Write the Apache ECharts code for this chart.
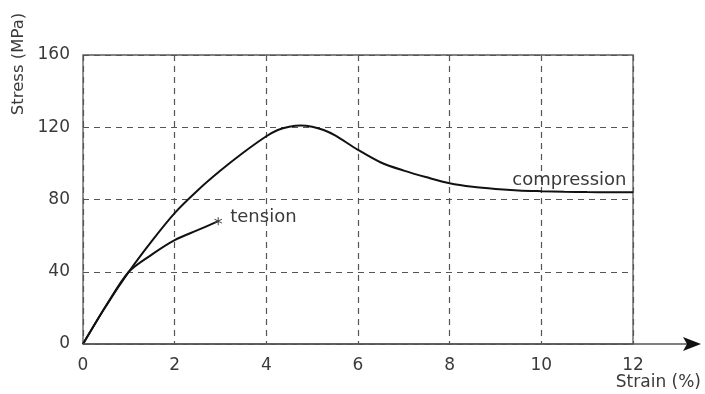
<!DOCTYPE html>
<html>
<head>
<meta charset="utf-8">
<script src="https://cdn.jsdelivr.net/npm/echarts@6/dist/echarts.min.js"></script>
<style>html,body{margin:0;padding:0;background:#fff;}#c{width:705px;height:394px;}</style>
</head>
<body>
<div id="c"></div>
<script>
// Data
var xTicks = [0, 2, 4, 6, 8, 10, 12];
var yTicks = [0, 40, 80, 120, 160];
var compressionX = [0, 0.5, 1, 1.5, 2, 2.5, 3, 3.5, 4, 4.25, 4.5, 4.75, 5, 5.25, 5.5, 6, 6.5, 7, 7.5, 8, 8.5, 9, 9.5, 10, 10.5, 11, 11.5, 12];
var compressionY = [0, 21, 40, 57, 72.5, 85, 96, 106, 115, 118.5, 120.3, 121, 120.3, 118.5, 115.5, 107.5, 100.5, 96, 92.3, 89, 87, 85.8, 85, 84.6, 84.3, 84.1, 84, 84];
var tensionX = [0, 0.5, 1, 1.5, 2, 2.5, 2.95];
var tensionY = [0, 21, 40, 49.5, 57.5, 63, 68];
var compressionLabel = 'compression';
var tensionLabel = 'tension';
var xName = 'Strain (%)';
var yName = 'Stress (MPa)';

var FONT = 'DejaVu Sans';
var TXT = '#3a3a3a';
var starPath = 'path://M4.4 0 L5.6 0 L5.6 10 L4.4 10 Z M0.37 3.02 L0.97 1.98 L9.63 6.98 L9.03 8.02 Z M0.97 8.02 L0.37 6.98 L9.03 1.98 L9.63 3.02 Z';

function pairs(xs, ys) { return xs.map(function (x, i) { return [x, ys[i]]; }); }

var compData = pairs(compressionX, compressionY);
var last = compData.length - 1;
compData[last] = {
  value: compData[last],
  symbol: 'circle', symbolSize: 1,
  itemStyle: { color: 'rgba(0,0,0,0)' },
  label: {
    show: true, position: 'left', distance: 6, offset: [0, -12],
    formatter: compressionLabel, fontFamily: FONT, fontSize: 18, color: TXT
  }
};
var tenData = pairs(tensionX, tensionY);
var tl = tenData.length - 1;
tenData[tl] = {
  value: tenData[tl],
  symbol: starPath, symbolSize: 8,
  itemStyle: { color: '#444' },
  label: {
    show: true, position: 'right', distance: 8, offset: [0, -4],
    formatter: tensionLabel, fontFamily: FONT, fontSize: 18, color: TXT
  }
};

var chart = echarts.init(document.getElementById('c'), null, { renderer: 'canvas' });
var option = {
  animation: false,
  backgroundColor: '#fff',
  grid: { left: 83, right: 72, top: 55, bottom: 50, show: true, borderColor: '#5a5a5a', borderWidth: 1.3, containLabel: false },
  xAxis: {
    type: 'value', min: 0, max: 12, interval: 2,
    axisLine: { show: false }, axisTick: { show: false },
    axisLabel: { margin: 13, fontFamily: FONT, fontSize: 17, color: TXT },
    splitLine: { show: true, lineStyle: { color: '#555', width: 1.2, type: [6, 5] } }
  },
  yAxis: {
    type: 'value', min: 0, max: 160, interval: 40,
    axisLine: { show: false }, axisTick: { show: false },
    axisLabel: { margin: 13, fontFamily: FONT, fontSize: 17, color: TXT },
    splitLine: { show: true, lineStyle: { color: '#555', width: 1.2, type: [6, 5] } }
  },
  series: [
    { name: 'compression', type: 'line', data: compData, smooth: 0.3, showSymbol: true,
      symbol: 'none', lineStyle: { color: '#111', width: 2 }, z: 5 },
    { name: 'tension', type: 'line', data: tenData, smooth: 0.3, showSymbol: true,
      symbol: 'none', lineStyle: { color: '#111', width: 2 }, z: 5 }
  ]
};
chart.setOption(option);

var o = chart.convertToPixel({ gridIndex: 0 }, [0, 0]);
var top = chart.convertToPixel({ gridIndex: 0 }, [0, 160]);
var right = chart.convertToPixel({ gridIndex: 0 }, [12, 0]);
var ox = o[0], oy = o[1];
var yTipY = top[1] - 43, xTipX = right[0] + 68;
chart.setOption({
  graphic: [
    { type: 'line', shape: { x1: ox, y1: oy, x2: ox, y2: yTipY + 14 }, style: { stroke: '#555', lineWidth: 1.5 }, z: 10 },
    { type: 'polygon', shape: { points: [[ox, yTipY], [ox + 8, yTipY + 21], [ox, yTipY + 17], [ox - 8, yTipY + 21]] }, style: { fill: '#111' }, z: 11 },
    { type: 'line', shape: { x1: ox, y1: oy, x2: xTipX - 12, y2: oy }, style: { stroke: '#555', lineWidth: 1.5 }, z: 10 },
    { type: 'polygon', shape: { points: [[xTipX, oy], [xTipX - 18, oy - 7], [xTipX - 14, oy], [xTipX - 18, oy + 7]] }, style: { fill: '#111' }, z: 11 },
    { type: 'text', x: 19, y: 64, rotation: Math.PI / 2, style: { text: yName, fontFamily: FONT, fontSize: 16.5, fill: TXT, textAlign: 'center', textVerticalAlign: 'middle' }, z: 10 },
    { type: 'text', x: 701, y: 383, style: { text: xName, fontFamily: FONT, fontSize: 17, fill: TXT, textAlign: 'right', textVerticalAlign: 'middle' }, z: 10 }
  ]
});
</script>
</body>
</html>
